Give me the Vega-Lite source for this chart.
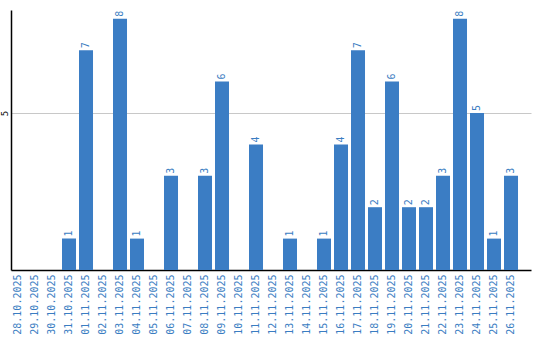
{
  "$schema": "https://vega.github.io/schema/vega-lite/v6.json",
  "width": 520,
  "height": 260,
  "autosize": "none",
  "padding": {"left": 11, "top": 10, "right": 9, "bottom": 70},
  "background": "white",
  "config": {"view": {"stroke": null}, "font": "DejaVu Sans Mono"},
  "data": {"values": [
    {"d": "28.10.2025", "v": 0}, {"d": "29.10.2025", "v": 0}, {"d": "30.10.2025", "v": 0},
    {"d": "31.10.2025", "v": 1}, {"d": "01.11.2025", "v": 7}, {"d": "02.11.2025", "v": 0},
    {"d": "03.11.2025", "v": 8}, {"d": "04.11.2025", "v": 1}, {"d": "05.11.2025", "v": 0},
    {"d": "06.11.2025", "v": 3}, {"d": "07.11.2025", "v": 0}, {"d": "08.11.2025", "v": 3},
    {"d": "09.11.2025", "v": 6}, {"d": "10.11.2025", "v": 0}, {"d": "11.11.2025", "v": 4},
    {"d": "12.11.2025", "v": 0}, {"d": "13.11.2025", "v": 1}, {"d": "14.11.2025", "v": 0},
    {"d": "15.11.2025", "v": 1}, {"d": "16.11.2025", "v": 4}, {"d": "17.11.2025", "v": 7},
    {"d": "18.11.2025", "v": 2}, {"d": "19.11.2025", "v": 6}, {"d": "20.11.2025", "v": 2},
    {"d": "21.11.2025", "v": 2}, {"d": "22.11.2025", "v": 3}, {"d": "23.11.2025", "v": 8},
    {"d": "24.11.2025", "v": 5}, {"d": "25.11.2025", "v": 1}, {"d": "26.11.2025", "v": 3}
  ]},
  "encoding": {
    "x": {"field": "d", "type": "ordinal", "sort": null,
      "scale": {"paddingInner": 0.176, "paddingOuter": 0.382, "align": 0},
      "axis": {"title": null, "labelAngle": -90, "labelColor": "#3a7dc2", "labelFontSize": 10,
        "labelFont": "DejaVu Sans Mono", "ticks": false, "domainColor": "#000", "domainWidth": 1.5, "labelPadding": 4}},
    "y": {"field": "v", "type": "quantitative",
      "scale": {"domain": [0, 8.28], "nice": false},
      "axis": {"title": null, "values": [5], "labelAngle": -90, "labelFontSize": 9, "labelColor": "#000",
        "labelAlign": "center", "labelBaseline": "bottom", "labelPadding": 2,
        "ticks": false, "grid": true, "gridColor": "#c8c8c8", "domainColor": "#000", "domainWidth": 1.5}}
  },
  "layer": [
    {"mark": {"type": "bar", "color": "#3b7dc4"}},
    {"transform": [{"filter": "datum.v > 0"}],
     "mark": {"type": "text", "angle": -90, "align": "left", "baseline": "middle", "dx": 2,
       "color": "#3a7dc2", "fontSize": 10, "font": "DejaVu Sans Mono"},
     "encoding": {"text": {"field": "v", "type": "quantitative"}}}
  ]
}
